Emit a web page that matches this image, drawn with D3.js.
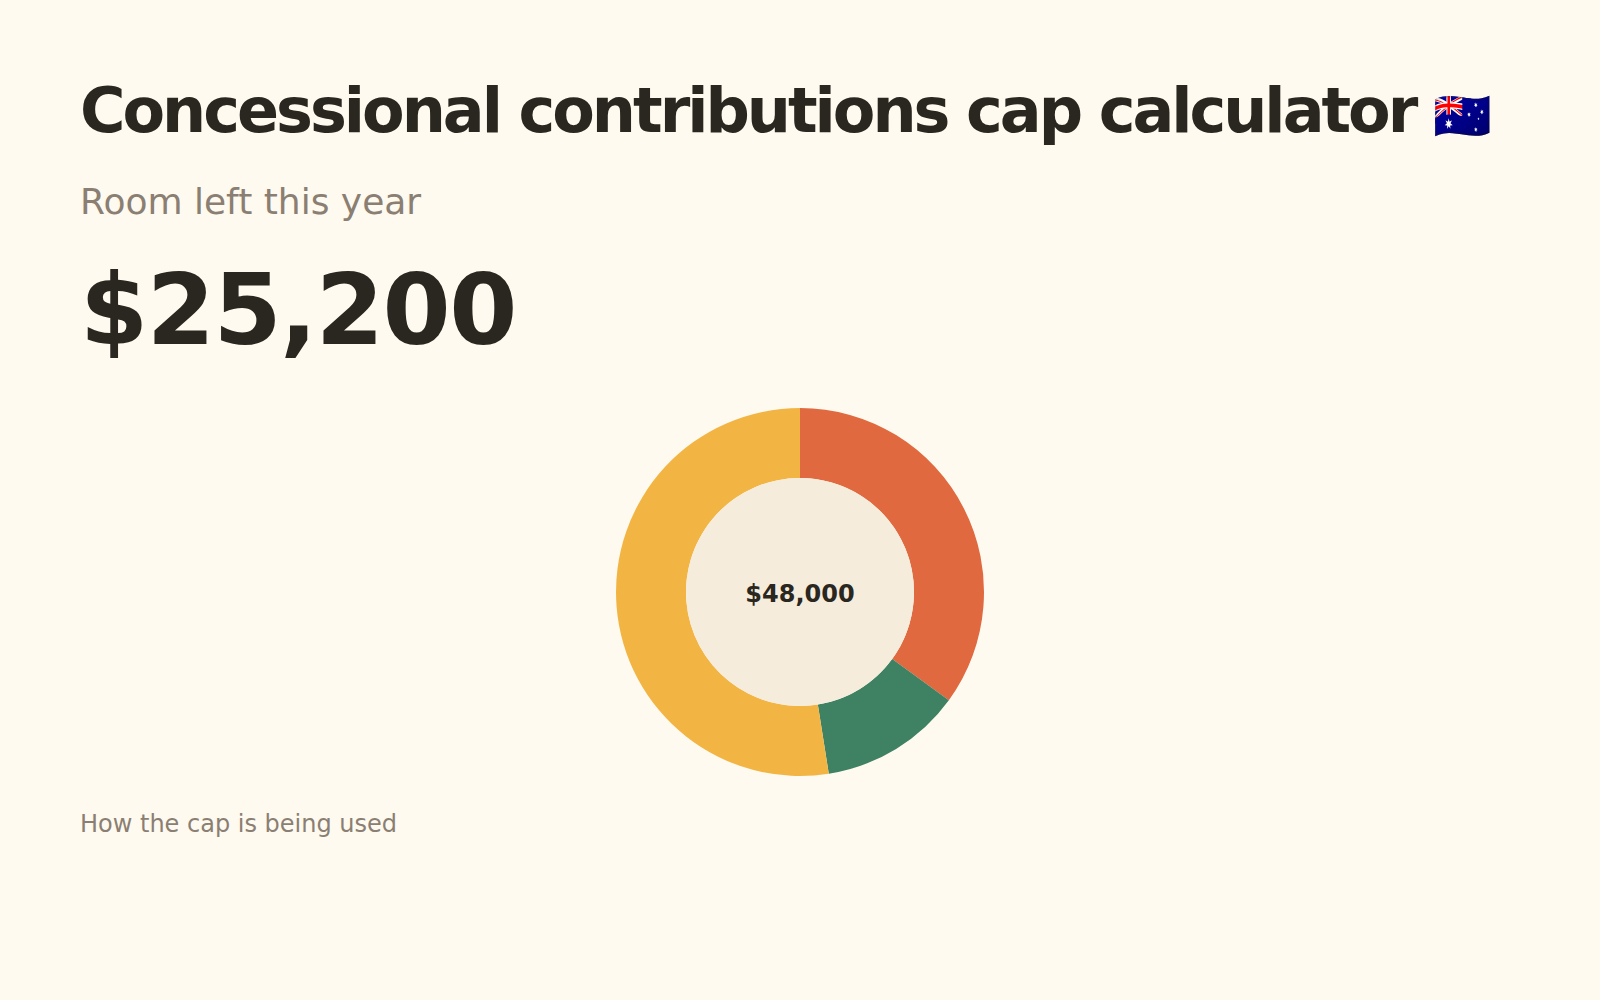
<!doctype html>
<html>
<head>
<meta charset="utf-8">
<title>Concessional contributions cap calculator</title>
<script src="https://d3js.org/d3.v7.min.js"></script>
<style>
  html, body { margin: 0; padding: 0; background: #fffaf0; }
  body { font-family: 'DejaVu Sans', sans-serif; }
  svg text { font-family: 'DejaVu Sans', 'Noto Color Emoji', sans-serif; }
</style>
</head>
<body>
<div id="chart"></div>
<script>
// how the cap is split up
var parts = ["Employer contributions", "Salary sacrifice", "Room left"];
var amounts = [16800, 6000, 25200];
var colours = ["#e0693f", "#3f8163", "#f2b544"];

var cap = d3.sum(amounts);
var roomLeft = amounts[2];
var money = d3.format("$,");

var width = 1600, height = 1000;

var svg = d3.select("#chart")
  .append("svg")
  .attr("width", width)
  .attr("height", height);

svg.append("rect")
  .attr("width", width)
  .attr("height", height)
  .attr("fill", "#fffaf0");

// headings
var title = svg.append("text")
  .attr("x", 80)
  .attr("y", 132)
  .attr("font-size", 62)
  .attr("font-weight", "bold")
  .attr("letter-spacing", "-3px")
  .attr("fill", "#2a2720");
title.append("tspan").text("Concessional contributions cap calculator ");
title.append("tspan")
  .attr("font-size", 47)
  .attr("letter-spacing", "0px")
  .text("\uD83C\uDDE6\uD83C\uDDFA");

svg.append("text")
  .attr("x", 80)
  .attr("y", 214)
  .attr("font-size", 36)
  .attr("fill", "#8a7f72")
  .text("Room left this year");

svg.append("text")
  .attr("x", 80)
  .attr("y", 344)
  .attr("font-size", 98)
  .attr("font-weight", "bold")
  .attr("letter-spacing", "-1.5px")
  .attr("fill", "#2a2720")
  .text(money(roomLeft));

// donut
var outer = 184, inner = 114;
var g = svg.append("g")
  .attr("transform", "translate(800,592)");

var pie = d3.pie().sort(null).value(function(d){ return d; });
var arc = d3.arc().innerRadius(inner).outerRadius(outer);

g.selectAll(".slice")
  .data(pie(amounts))
  .enter().append("path")
  .attr("class", "slice")
  .attr("d", arc)
  .attr("fill", function(d, i){ return colours[i]; })
  .append("title")
  .text(function(d, i){ return parts[i] + ": " + money(d.data); });

g.append("circle")
  .attr("r", inner)
  .attr("fill", "#f5ecdc");

g.append("text")
  .attr("text-anchor", "middle")
  .attr("y", 10)
  .attr("font-size", 24)
  .attr("font-weight", "bold")
  .attr("fill", "#2a2720")
  .text(money(cap));

svg.append("text")
  .attr("x", 80)
  .attr("y", 832)
  .attr("font-size", 24)
  .attr("fill", "#8a7f72")
  .text("How the cap is being used");
</script>
</body>
</html>
